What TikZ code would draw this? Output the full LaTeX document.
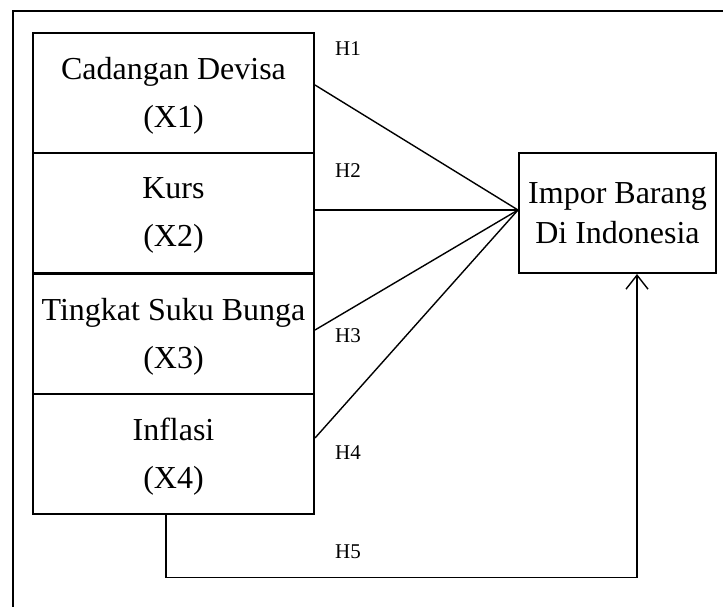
\documentclass[tikz,border=0pt]{standalone}
\usepackage{fontspec}
\setmainfont{Liberation Serif}
\usepackage{tikz}
\usetikzlibrary{arrows.meta}

\begin{document}
\begin{tikzpicture}[x=0.5pt,y=-0.5pt,
  varbox/.style={draw,line width=1pt,minimum width=140.5pt,minimum height=60pt,
    inner sep=0pt,align=center,text depth=-2.5pt,font=\fontsize{16}{24}\selectfont},
  outbox/.style={draw,line width=1pt,minimum width=98.5pt,minimum height=60pt,
    inner sep=0pt,align=center,font=\fontsize{16}{20}\selectfont},
  hlabel/.style={font=\fontsize{10.5}{12}\selectfont},
  link/.style={line width=0.7pt}]

\path[use as bounding box,clip] (0,0) rectangle (723,606);

% outer frame (cut by the page)
\draw[line width=1pt] (13,11) rectangle (760,650);

% independent variables
\node[varbox] (x1) at (173.5,92.5) {Cadangan Devisa\\(X1)};
\node[varbox] (x2) at (173.5,212.5) {Kurs\\(X2)};
\node[varbox] (x3) at (173.5,333.5) {Tingkat Suku Bunga\\(X3)};
\node[varbox] (x4) at (173.5,453.5) {Inflasi\\(X4)};

% dependent variable
\node[outbox] (y) at (617.5,213) {Impor Barang\\Di Indonesia};
\coordinate (hub) at ([yshift=1.5pt]y.west);
\coordinate (h5in) at ([xshift=9.75pt]y.south);

% hypotheses
\draw[link] ([yshift=3.75pt]x1.east) -- (hub);
\draw[link] ([yshift=1.25pt]x2.east) -- (hub);
\draw[link] ([yshift=1.75pt]x3.east) -- (hub);
\draw[link] ([yshift=7.75pt]x4.east) -- (hub);
\draw[link,->,>={Straight Barb[length=7pt,width=11pt]}] ([xshift=-3.75pt]x4.south) -- ++(0,63) -| (h5in);

% labels
\node[hlabel] (h1) at (348,49) {H1};
\node[hlabel] (h2) at (348,171) {H2};
\node[hlabel] (h3) at (348,336) {H3};
\node[hlabel] (h4) at (348,453) {H4};
\node[hlabel] (h5) at (348,552) {H5};
\end{tikzpicture}
\end{document}
